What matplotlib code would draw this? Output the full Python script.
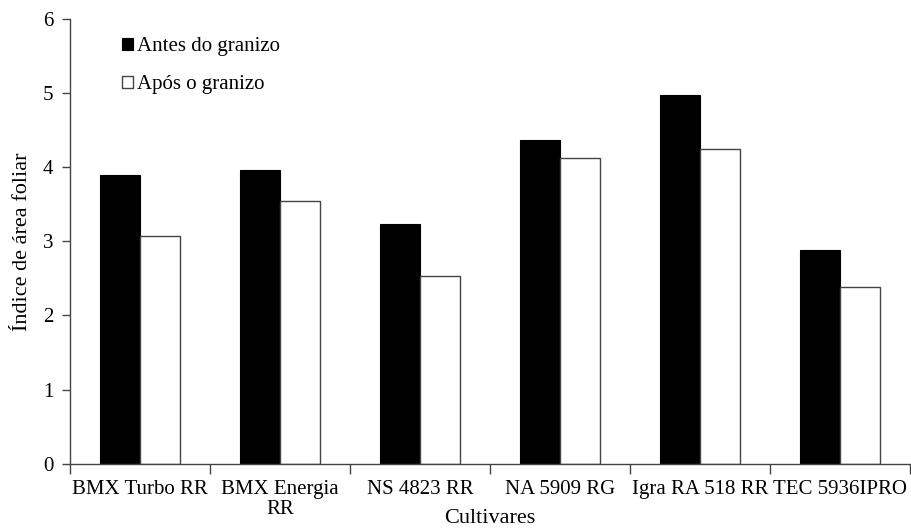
import matplotlib.pyplot as plt
import numpy as np

cultivares = ["BMX Turbo RR", "BMX Energia\nRR", "NS 4823 RR",
              "NA 5909 RG", "Igra RA 518 RR", "TEC 5936IPRO"]
antes = [3.89, 3.96, 3.24, 4.37, 4.98, 2.89]
apos = [3.07, 3.54, 2.53, 4.12, 4.24, 2.39]

plt.rcParams["font.family"] = ["Liberation Serif", "DejaVu Serif"]

fig = plt.figure(figsize=(9.11, 5.29), dpi=100)
ax = fig.add_axes([0.0768, 0.1234, 0.9222, 0.8406])

x = np.arange(len(cultivares))
w = 0.2857
ax.bar(x - w / 2, antes, w, color="black", edgecolor="black", linewidth=0.8,
       label="Antes do granizo")
ax.bar(x + w / 2, apos, w, color="white", edgecolor="#444444", linewidth=1.0,
       label="Após o granizo")

ax.set_xlim(-0.5, len(cultivares) - 0.5)
ax.set_ylim(0, 6)
ax.set_yticks(range(0, 7))
ax.set_xticks(x)
ax.set_xticklabels(cultivares, fontsize=15, linespacing=1.05)
ax.set_xticks(np.arange(-0.5, len(cultivares)), minor=True)
ax.tick_params(axis="x", which="major", length=0, pad=12)
ax.tick_params(axis="x", which="minor", length=7, width=1, color="#444444",
               direction="out")
ax.tick_params(axis="y", length=6, width=1, color="#444444", labelsize=15, pad=6)

for s in ["top", "right"]:
    ax.spines[s].set_visible(False)
for s in ["left", "bottom"]:
    ax.spines[s].set_color("#444444")
    ax.spines[s].set_linewidth(1.0)

ax.set_ylabel("Índice de área foliar", fontsize=16, labelpad=8)
fig.text(0.538, 0.002, "Cultivares", fontsize=16, ha="center", va="bottom")

ax.legend(frameon=False, loc="upper left", bbox_to_anchor=(0.125, 0.945),
          bbox_transform=fig.transFigure, fontsize=15, handlelength=0.5,
          handleheight=0.5, handletextpad=0.2, labelspacing=0.9,
          borderaxespad=0)

fig.savefig("out.png", dpi=100)
